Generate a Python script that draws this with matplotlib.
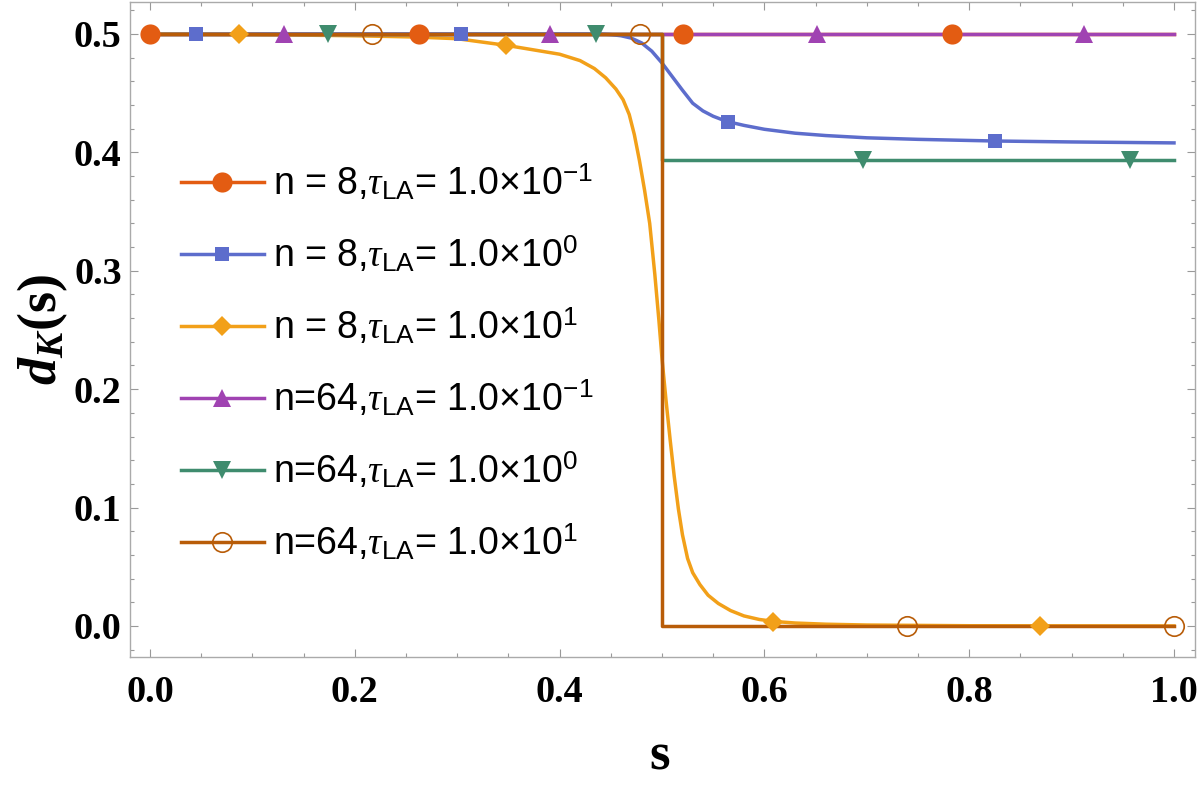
import matplotlib
matplotlib.use('Agg')
import matplotlib.pyplot as plt
from matplotlib.lines import Line2D
from matplotlib.ticker import MultipleLocator

plt.rcParams['mathtext.fontset'] = 'custom'
plt.rcParams['mathtext.rm'] = 'Liberation Sans'
plt.rcParams['mathtext.it'] = 'Liberation Serif:italic'
plt.rcParams['mathtext.bf'] = 'Liberation Serif:bold'
plt.rcParams['mathtext.bfit'] = 'Liberation Serif:bold:italic'

# series labels and colours
labels = [
    r"n = 8,$\tau_{\mathrm{LA}}$= 1.0×10$^{-1}$",
    r"n = 8,$\tau_{\mathrm{LA}}$= 1.0×10$^{0}$",
    r"n = 8,$\tau_{\mathrm{LA}}$= 1.0×10$^{1}$",
    r"n=64,$\tau_{\mathrm{LA}}$= 1.0×10$^{-1}$",
    r"n=64,$\tau_{\mathrm{LA}}$= 1.0×10$^{0}$",
    r"n=64,$\tau_{\mathrm{LA}}$= 1.0×10$^{1}$",
]
colors = ['#E35C12', '#5D6DCC', '#F2A019', '#A043B2', '#3F8C6E', '#B85C08']
markers = ['o', 's', 'D', '^', 'v', 'o']

# curves
s_n8_t01 = [0.0, 1.0]
d_n8_t01 = [0.5, 0.5]

s_n8_t1 = [0.0, 0.40, 0.44, 0.45, 0.46, 0.47, 0.48, 0.49, 0.50, 0.51, 0.52, 0.53,
           0.54, 0.55, 0.56, 0.57, 0.58, 0.60, 0.63, 0.66, 0.70, 0.75, 0.825, 0.90, 1.0]
d_n8_t1 = [0.5, 0.5, 0.5, 0.4995, 0.4985, 0.4965, 0.4925, 0.4855, 0.4755, 0.4640,
           0.4525, 0.4415, 0.4350, 0.4305, 0.4272, 0.4248, 0.4228, 0.4195, 0.4162,
           0.4142, 0.4123, 0.4110, 0.4096, 0.4088, 0.408]

s_n8_t10 = [0.0, 0.1, 0.2, 0.26, 0.30, 0.348, 0.40, 0.42, 0.434, 0.445, 0.455,
            0.462, 0.468, 0.473, 0.478, 0.483, 0.488, 0.493, 0.497, 0.500, 0.504,
            0.508, 0.512, 0.516, 0.520, 0.525, 0.530, 0.537, 0.545, 0.555, 0.567,
            0.58, 0.595, 0.61, 0.63, 0.66, 0.70, 0.80, 1.0]
d_n8_t10 = [0.5, 0.4995, 0.4985, 0.4974, 0.496, 0.4904, 0.4829, 0.4775, 0.4708,
            0.463, 0.4535, 0.4445, 0.432, 0.415, 0.393, 0.368, 0.340, 0.297,
            0.258, 0.226, 0.190, 0.157, 0.126, 0.099, 0.077, 0.057, 0.045, 0.035,
            0.026, 0.019, 0.013, 0.0085, 0.0055, 0.0038, 0.0025, 0.0015, 0.0008,
            0.0002, 0.0]

s_n64_t01 = [0.0, 1.0]
d_n64_t01 = [0.5, 0.5]

s_n64_t1 = [0.0, 0.5, 0.5, 1.0]
d_n64_t1 = [0.5, 0.5, 0.3936, 0.3936]

s_n64_t10 = [0.0, 0.5, 0.5, 1.0]
d_n64_t10 = [0.5, 0.5, 0.0, 0.0]

# marker positions along each curve
ms_n8_t01 = [0.0, 0.263, 0.521, 0.783]
md_n8_t01 = [0.5, 0.5, 0.5, 0.5]
ms_n8_t1 = [0.045, 0.304, 0.564, 0.825]
md_n8_t1 = [0.5, 0.5, 0.4257, 0.4096]
ms_n8_t10 = [0.087, 0.348, 0.608, 0.869]
md_n8_t10 = [0.4996, 0.4904, 0.0035, 0.0]
ms_n64_t01 = [0.131, 0.391, 0.651, 0.912]
md_n64_t01 = [0.5, 0.5, 0.5, 0.5]
ms_n64_t1 = [0.174, 0.4355, 0.696, 0.957]
md_n64_t1 = [0.5, 0.5, 0.3936, 0.3936]
ms_n64_t10 = [0.217, 0.4785, 0.739, 1.0]
md_n64_t10 = [0.5, 0.5, 0.0, 0.0]

curves = [(s_n8_t01, d_n8_t01), (s_n8_t1, d_n8_t1), (s_n8_t10, d_n8_t10),
          (s_n64_t01, d_n64_t01), (s_n64_t1, d_n64_t1), (s_n64_t10, d_n64_t10)]
marks = [(ms_n8_t01, md_n8_t01), (ms_n8_t1, md_n8_t1), (ms_n8_t10, md_n8_t10),
         (ms_n64_t01, md_n64_t01), (ms_n64_t1, md_n64_t1), (ms_n64_t10, md_n64_t10)]
msizes = [14.5, 10.5, 10.5, 13, 13, 14]


def marker_style(i):
    st = dict(marker=markers[i], markersize=msizes[i], color=colors[i])
    if i == 5:
        st.update(markerfacecolor='none', markeredgecolor=colors[i], markeredgewidth=1.2)
    else:
        st.update(markerfacecolor=colors[i], markeredgewidth=0)
    return st


fig = plt.figure(figsize=(12, 7.86), dpi=100)
ax = fig.add_axes([130 / 1200, 1 - 657 / 786, 1065 / 1200, 655 / 786])

for i, (s, d) in enumerate(curves):
    ax.plot(s, d, color=colors[i], lw=2.5, zorder=2)
for i, (s, d) in enumerate(marks):
    ax.plot(s, d, linestyle='none', zorder=3, **marker_style(i))

ax.set_xlim(-0.0195, 1.0205)
ax.set_ylim(-0.0262, 0.527)

ax.xaxis.set_major_locator(MultipleLocator(0.2))
ax.xaxis.set_minor_locator(MultipleLocator(0.05))
ax.yaxis.set_major_locator(MultipleLocator(0.1))
ax.yaxis.set_minor_locator(MultipleLocator(0.02))
ax.xaxis.set_major_formatter(lambda v, p: f"{v:.1f}")
ax.yaxis.set_major_formatter(lambda v, p: f"{v:.1f}")

for sp in ax.spines.values():
    sp.set_color('#aaaaaa')
    sp.set_linewidth(1)
ax.tick_params(which='both', direction='in', top=True, right=True, color='#999999', width=0.8)
ax.tick_params(which='major', length=6)
ax.tick_params(which='minor', length=3)
ax.tick_params(axis='y', which='major', pad=6)
ax.tick_params(axis='x', which='major', pad=13)
for lab in ax.get_xticklabels() + ax.get_yticklabels():
    lab.set_fontfamily('Liberation Serif')
    lab.set_fontweight('bold')
    lab.set_fontsize(27.5)

ax.set_xlabel('s', fontfamily='Liberation Serif', fontweight='bold', fontsize=38,
              va='center', ha='center')
ax.xaxis.set_label_coords((660 - 130) / 1065, -(757 - 657) / 655)
ax.set_ylabel(r'$\mathbfit{d}_{\mathbfit{K}}$(s)', fontfamily='Liberation Serif',
              fontweight='bold', fontsize=39, va='center', ha='center')
ax.yaxis.set_label_coords(-(130 - 43) / 1065, (657 - 330) / 655)

handles = [Line2D([], [], lw=2.5, **marker_style(i)) for i in range(6)]
ax.legend(handles, labels, loc='upper left', bbox_to_anchor=(181 / 1200, 1 - 162 / 786),
          bbox_transform=fig.transFigure, frameon=False, borderpad=0, borderaxespad=0,
          handlelength=2.2, handletextpad=0.26, labelspacing=0.83, numpoints=1,
          prop={'family': 'Liberation Sans', 'size': 27})

fig.savefig('out.png', dpi=100)
